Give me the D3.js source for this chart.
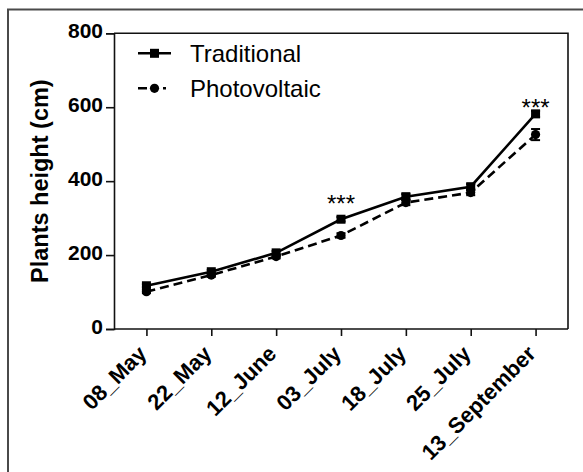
<!DOCTYPE html>
<html><head><meta charset="utf-8">
<script src="https://cdn.jsdelivr.net/npm/d3@7"></script>
<style>html,body{margin:0;padding:0;background:#fff;}svg{display:block;}</style>
</head><body>
<script>
const categories = ["08_May","22_May","12_June","03_July","18_July","25_July","13_September"];
const traditional = [117,155,206,297,358,385,582];
const photovoltaic = [101,146,196,253,342,369,526];
const traditionalErr = [4,5,5,6,7,7,8];
const photovoltaicErr = [4,5,5,6,7,7,15];
const yTicks = [0,200,400,600,800];
const significanceCats = ["03_July","13_September"];
const significanceLevel = [352,613];
const seriesNames = ["Traditional","Photovoltaic"];
const yTitle = "Plants height (cm)";

(function(){
const W = 583, H = 472;
const svg = d3.select("body").append("svg").attr("width", W).attr("height", H);
svg.append("rect").attr("width", W).attr("height", H).attr("fill", "#fff");
svg.append("path").attr("d", `M8,${H+5} L8,9.5 L${W+5},9.5`).attr("fill","none").attr("stroke","#4a4a4a").attr("stroke-width",2);

const mLeft = 114, mRight = 568, mTop = 33.3, mBottom = 329;
const x = d3.scalePoint().domain(categories).range([mLeft, mRight]).padding(0.5);
const y = d3.scaleLinear().domain([0, 800]).range([mBottom, mTop]);

const font = "Liberation Sans, Arial, Helvetica, sans-serif";

svg.append("path").attr("d", `M${mLeft},${mTop} L${mRight},${mTop} L${mRight},${mBottom}`).attr("fill","none").attr("stroke","#111").attr("stroke-width",1.6);

const yAxis = svg.append("g").attr("transform", `translate(${mLeft},0)`)
  .call(d3.axisLeft(y).tickValues(yTicks).tickSize(8).tickPadding(3).tickFormat(d3.format("d")));
yAxis.select(".domain").attr("stroke","#111").attr("stroke-width",1.6);
yAxis.selectAll(".tick line").attr("stroke","#111").attr("stroke-width",1.6);
yAxis.selectAll(".tick text").attr("font-family", font).attr("font-weight","bold").attr("font-size","21px").attr("fill","#000").attr("dy","0.22em");

const xAxis = svg.append("g").attr("transform", `translate(0,${mBottom})`)
  .call(d3.axisBottom(x).tickSize(7).tickSizeOuter(0));
xAxis.select(".domain").attr("stroke","#111").attr("stroke-width",1.6).attr("d", `M${mLeft},0H${mRight}`);
xAxis.selectAll(".tick line").attr("stroke","#111").attr("stroke-width",1.6);
xAxis.selectAll(".tick text")
  .attr("font-family", font).attr("font-weight","bold").attr("font-size","22px").attr("fill","#000")
  .attr("text-anchor","end").attr("y",0).attr("dy",0)
  .attr("transform","translate(1,26) rotate(-45)");

svg.append("text").attr("transform", `translate(48,${(mTop+mBottom)/2}) rotate(-90)`)
  .attr("text-anchor","middle").attr("font-family",font).attr("font-weight","bold").attr("font-size","23.5px").text(yTitle);

const lineGen = d3.line().x((d,i)=>x(categories[i])).y(d=>y(d));

function errBars(vals, errs){
  const g = svg.append("g");
  vals.forEach((v,i)=>{
    const cx = x(categories[i]);
    g.append("line").attr("x1",cx).attr("x2",cx).attr("y1",y(v+errs[i])).attr("y2",y(v-errs[i])).attr("stroke","#000").attr("stroke-width",2);
    [v+errs[i], v-errs[i]].forEach(e=>g.append("line").attr("x1",cx-4.5).attr("x2",cx+4.5).attr("y1",y(e)).attr("y2",y(e)).attr("stroke","#000").attr("stroke-width",2));
  });
}
errBars(photovoltaic, photovoltaicErr);
errBars(traditional, traditionalErr);

svg.append("path").datum(photovoltaic).attr("d", lineGen).attr("fill","none").attr("stroke","#000").attr("stroke-width",2.6).attr("stroke-dasharray","9,5");
svg.append("path").datum(traditional).attr("d", lineGen).attr("fill","none").attr("stroke","#000").attr("stroke-width",2.6);

svg.append("g").selectAll("circle").data(photovoltaic).join("circle")
  .attr("cx",(d,i)=>x(categories[i])).attr("cy",d=>y(d)).attr("r",4.6).attr("fill","#000");
svg.append("g").selectAll("rect").data(traditional).join("rect")
  .attr("x",(d,i)=>x(categories[i])-4.5).attr("y",d=>y(d)-4.5).attr("width",9).attr("height",9).attr("fill","#000");

svg.append("g").selectAll("text").data(significanceCats).join("text")
  .attr("x",d=>x(d)).attr("y",(d,i)=>y(significanceLevel[i])+13.5)
  .attr("text-anchor","middle").attr("font-family",font).attr("font-size","24px").text("***");

const lg = svg.append("g");
const ly = [53.3, 88.3];
lg.append("line").attr("x1",138).attr("x2",171).attr("y1",ly[0]).attr("y2",ly[0]).attr("stroke","#000").attr("stroke-width",2.6);
lg.append("rect").attr("x",154.5-4.5).attr("y",ly[0]-4.5).attr("width",9).attr("height",9).attr("fill","#000");
lg.append("line").attr("x1",138).attr("x2",171).attr("y1",ly[1]).attr("y2",ly[1]).attr("stroke","#000").attr("stroke-width",2.6).attr("stroke-dasharray","9,5,6,5,3");
lg.append("circle").attr("cx",154.5).attr("cy",ly[1]).attr("r",4.6).attr("fill","#000");
lg.selectAll("text").data(seriesNames).join("text")
  .attr("x",190).attr("y",(d,i)=>ly[i]).attr("dy","0.36em")
  .attr("font-family",font).attr("font-size","24px").attr("fill","#000").text(d=>d);
})();
</script>
</body></html>
